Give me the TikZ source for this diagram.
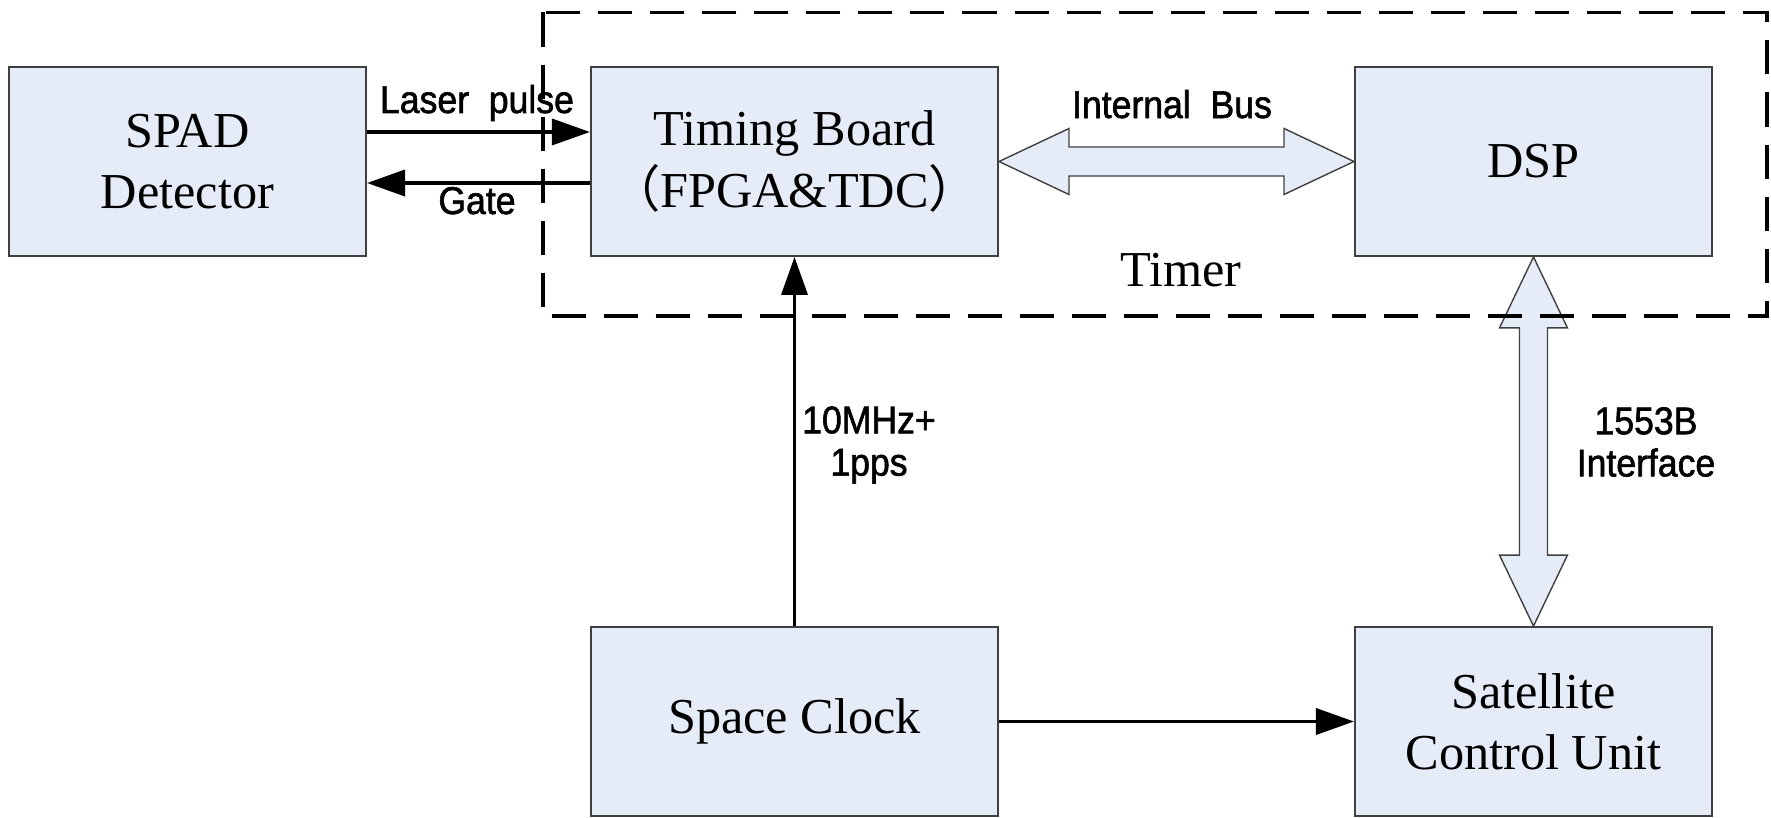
\documentclass[tikz,border=0pt]{standalone}
\usepackage{fontspec}
\setmainfont{Liberation Serif}
\newfontfamily\lblfont[FakeBold=1.5,FakeStretch=0.92]{Liberation Sans}
\newfontfamily\cjkfont{Noto Sans CJK SC}
\usetikzlibrary{positioning,arrows.meta,calc}
\definecolor{boxblue}{HTML}{E5ECF7}
\definecolor{boxline}{HTML}{404040}

\begin{document}
\begin{tikzpicture}[x=0.01cm, y=-0.01cm,
    block/.style={draw=boxline, line width=0.5pt, fill=boxblue, minimum width=3.57cm, minimum height=1.89cm,
        align=center, inner sep=0pt, font=\fontsize{14.3}{17.4}\selectfont},
    wideblock/.style={block, minimum width=4.07cm},
    sig/.style={-{Triangle[length=3.8mm, width=2.6mm]}, line width=1pt},
    bus/.style={draw=boxline, line width=0.4pt, fill=boxblue},
    lbl/.style={font=\lblfont\fontsize{11}{12}\selectfont, inner sep=0pt, align=center},
    timerframe/.style={dash pattern=on 3.4mm off 1.8mm, line width=1.1pt}]
    \useasboundingbox (0,0) rectangle (1771,818);

    \node[block] (spad) at (187.5,161.5) {SPAD\\Detector};
    \node[wideblock] (tb) at (794.5,161.5) {Timing Board\\{\cjkfont （}FPGA\&TDC{\cjkfont ）}};
    \node[block] (dsp) at (1533.5,161.5) {DSP};
    \node[wideblock] (sc) at (794.5,721.5) {Space Clock};
    \node[block] (scu) at (1533.5,721.5) {Satellite\\Control Unit};

    \draw[sig] ([yshift=2.95mm]spad.east) -- ([yshift=2.95mm]tb.west);
    \draw[sig] ([yshift=-2.15mm]tb.west) -- ([yshift=-2.15mm]spad.east);
    \draw[sig] (sc.north) -- (tb.south);
    \draw[sig] (sc.east) -- (scu.west);

    \draw[bus] (tb.east) -- ++(70,-33) -- ++(0,18.5) -- ($(dsp.west)+(-70,-14.5)$) -- ++(0,-18.5)
        -- (dsp.west) -- ++(-70,33) -- ++(0,-18.5) -- ($(tb.east)+(70,14.5)$) -- ++(0,18.5) -- cycle;
    \draw[bus] (dsp.south) -- ++(34,71) -- ++(-20,0) -- ($(scu.north)+(14,-71)$) -- ++(20,0)
        -- (scu.north) -- ++(-34,-71) -- ++(20,0) -- ($(dsp.south)+(-14,71)$) -- ++(-20,0) -- cycle;

    \node[lbl, anchor=base] (lp) at (477,113) {Laser\ \ pulse};
    \node[lbl, anchor=base] (gt) at (477,214) {Gate};
    \node[lbl, anchor=base] (ib) at (1172,118) {Internal\ \ Bus};
    \node[lbl] (clk) at (869,445) {10MHz+\\1pps};
    \node[lbl] (mil) at (1646,442) {1553B\\Interface};
    \node[font=\fontsize{14.3}{17.4}\selectfont, inner sep=0pt, anchor=base] (tm) at (1181,286) {Timer};

    \draw[timerframe] (543,12.5) rectangle (1767,316);
\end{tikzpicture}
\end{document}
